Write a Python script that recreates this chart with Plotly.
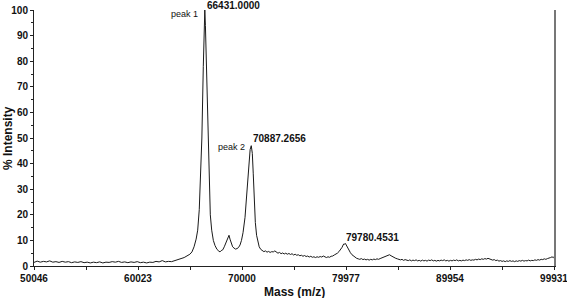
import plotly.graph_objects as go

# Spectrum (mass in Da, % intensity)
mass = [
    50046, 50350, 50650, 50950, 51250, 51550, 51850, 52150, 52450, 52750,
    53050, 53350, 53650, 53950, 54250, 54550, 54850, 55150, 55450, 55750,
    56050, 56350, 56650, 56950, 57250, 57550, 57850, 58150, 58450, 58750,
    59050, 59350, 59650, 59950, 60250, 60550, 60850, 61150, 61450, 61750,
    62050, 62350, 62650, 62950, 63250, 63550, 63850, 64150, 64450, 64750,
    65000, 65200, 65400, 65600, 65750, 65900, 66038, 66150, 66287, 66380,
    66431, 66490, 66594, 66700, 66834, 66960, 67093, 67250, 67410, 67600,
    67780, 67890, 68000, 68150, 68300, 68450, 68600, 68754, 68850, 68950,
    69100, 69234, 69380, 69522, 69660, 69810, 69950, 70098, 70200, 70290,
    70400, 70500, 70578, 70680, 70780, 70887, 70990, 71080, 71180, 71280,
    71400, 71520, 71650, 71800, 71950, 72100, 72250, 72400, 72550, 72700,
    72850, 73000, 73150, 73300, 73450, 73600, 73750, 73900, 74050, 74200,
    74350, 74500, 74650, 74800, 74950, 75100, 75250, 75400, 75550, 75700,
    75850, 76000, 76150, 76300, 76450, 76600, 76750, 76900, 77050, 77200,
    77350, 77500, 77650, 77800, 77950, 78100, 78250, 78400, 78550, 78700,
    78850, 79000, 79150, 79300, 79450, 79600, 79700, 79780, 79850, 79920,
    80000, 80100, 80250, 80400, 80550, 80700, 80850, 81000, 81150, 81300,
    81450, 81600, 81750, 81900, 82050, 82200, 82350, 82500, 82650, 82800,
    82950, 83100, 83250, 83400, 83550, 83700, 83850, 84000, 84150, 84300,
    84450, 84600, 84750, 84900, 85050, 85200, 85350, 85500, 85650, 85800,
    85950, 86100, 86250, 86400, 86550, 86700, 86850, 87000, 87150, 87300,
    87450, 87600, 87750, 87900, 88050, 88200, 88350, 88500, 88650, 88800,
    88950, 89100, 89250, 89400, 89550, 89700, 89850, 90000, 90150, 90300,
    90450, 90600, 90750, 90900, 91050, 91200, 91350, 91500, 91650, 91800,
    91950, 92100, 92250, 92400, 92550, 92700, 92850, 93000, 93150, 93300,
    93450, 93600, 93750, 93900, 94050, 94200, 94350, 94500, 94650, 94800,
    94950, 95100, 95250, 95400, 95550, 95700, 95850, 96000, 96150, 96300,
    96450, 96600, 96750, 96900, 97050, 97200, 97350, 97500, 97650, 97800,
    97950, 98100, 98250, 98400, 98550, 98700, 98850, 99000, 99150, 99300,
    99450, 99600, 99750, 99850, 99931,
]
intensity = [
    1.4, 1.9, 1.5, 1.8, 1.6, 2.0, 1.5, 1.7, 1.4, 1.8,
    1.5, 1.7, 1.3, 1.6, 1.4, 1.7, 1.3, 1.5, 1.2, 1.5,
    1.3, 1.6, 1.2, 1.5, 1.4, 1.7, 1.5, 1.8, 1.4, 1.6,
    1.3, 1.6, 1.4, 1.7, 1.3, 1.5, 1.2, 1.5, 1.4, 1.8,
    1.6, 2.1, 1.6, 1.8, 1.7, 2.2, 2.4, 2.9, 3.3, 3.9,
    4.6, 5.5, 7.5, 10.5, 14, 22, 34, 50, 78, 94,
    100, 94, 78, 55, 34, 20, 14, 10, 8, 6.5,
    5.8, 5.5, 6.0, 6.3, 7.5, 9.0, 10.5, 12, 10.5, 9.0,
    7.5, 7.0, 6.6, 6.8, 7.2, 8.2, 10, 13, 16, 19,
    25, 31, 35, 41, 45.5, 47, 44, 36, 25, 17,
    12, 9, 7.5, 6.5, 6.0, 5.6, 5.9, 5.4, 5.7, 5.3,
    5.6, 5.5, 5.9, 5.3, 5.0, 5.3, 4.8, 5.1, 4.7, 5.0,
    4.6, 4.9, 4.5, 4.8, 4.3, 4.6, 4.2, 4.4, 4.0, 4.2,
    3.8, 4.1, 3.7, 3.9, 3.5, 3.8, 3.4, 3.6, 3.3, 3.6,
    3.4, 3.7, 3.5, 3.9, 3.5, 3.3, 3.6, 3.4, 3.8, 3.9,
    4.3, 4.6, 5.0, 5.6, 6.4, 7.3, 8.2, 8.7, 8.5, 8.8,
    8.2, 7.3, 6.2, 5.2, 4.4, 3.8, 3.3, 3.0, 2.8, 2.6,
    2.9, 2.5, 2.7, 2.4, 2.6, 2.3, 2.6, 2.4, 2.7, 2.5,
    2.8, 2.6, 2.9, 3.1, 3.4, 3.6, 3.9, 4.1, 4.4, 4.0,
    3.6, 3.3, 3.0, 2.8, 2.6, 2.4, 2.6, 2.2, 2.5, 2.3,
    2.1, 2.4, 2.0, 2.3, 2.1, 2.4, 2.0, 2.2, 1.9, 2.3,
    2.0, 2.2, 1.9, 2.3, 2.1, 2.4, 2.0, 2.2, 1.9, 2.2,
    2.0, 2.3, 2.1, 2.4, 2.0, 2.2, 1.9, 2.2, 2.0, 2.3,
    2.1, 2.4, 2.0, 2.2, 2.0, 2.3, 2.1, 2.4, 2.2, 2.5,
    2.2, 2.4, 2.3, 2.6, 2.4, 2.7, 2.5, 2.8, 2.6, 2.9,
    2.7, 3.0, 2.8, 2.6, 2.3, 2.5, 2.1, 2.3, 1.9, 2.1,
    1.8, 2.0, 1.7, 2.0, 1.8, 2.1, 1.8, 2.0, 1.7, 2.0,
    1.8, 2.1, 1.9, 2.2, 1.9, 2.1, 2.0, 2.3, 2.0, 2.2,
    2.1, 2.4, 2.2, 2.5, 2.3, 2.6, 2.5, 2.8, 2.6, 2.9,
    3.0, 3.3, 3.6, 3.2, 3.7,
]

x_ticks = [50046, 60023, 70000, 79977, 89954, 99931]
x_minor = [55034.5, 65011.5, 74988.5, 84965.5, 94942.5]
y_ticks = [0, 10, 20, 30, 40, 50, 60, 70, 80, 90, 100]

peak_mass = [66431.0, 70887.2656, 79780.4531]
peak_label_y = [100, 50, 11.3]
peak_label_shift = [5, 0, 0]
peak_names = ["peak 1", "peak 2", ""]
peak_name_x = [65950, 70480, 0]
peak_name_y = [98.4, 46.5, 0]

FONT = "Liberation Sans, Arial, sans-serif"

fig = go.Figure()
fig.add_trace(go.Scatter(x=mass, y=intensity, mode="lines",
                         line=dict(color="#1a1a1a", width=1),
                         showlegend=False, hoverinfo="skip"))
# invisible trace on a right-side axis that carries the gray right border
fig.add_trace(go.Scatter(x=[mass[0]], y=[intensity[0]], yaxis="y2", mode="lines",
                         line=dict(width=0), showlegend=False, hoverinfo="skip"))

for m, ly, sh in zip(peak_mass, peak_label_y, peak_label_shift):
    fig.add_annotation(x=m, y=ly, yshift=sh, text="<b>%.4f</b>" % m, showarrow=False,
                       xanchor="left", yanchor="middle",
                       font=dict(family=FONT, size=10, color="#111"))
for name, nx, ny in zip(peak_names, peak_name_x, peak_name_y):
    if name:
        fig.add_annotation(x=nx, y=ny, text=name, showarrow=False,
                           xanchor="right", yanchor="middle",
                           font=dict(family=FONT, size=9, color="#111"))

# axis titles
fig.add_annotation(xref="paper", yref="paper", x=0.5, y=0, yshift=-26,
                   text="<b>Mass (m/z)</b>", showarrow=False,
                   xanchor="center", yanchor="middle",
                   font=dict(family=FONT, size=12, color="#111"))
fig.add_annotation(xref="paper", yref="paper", x=0, xshift=-26, y=0.5,
                   text="<b>% Intensity</b>", showarrow=False, textangle=-90,
                   xanchor="center", yanchor="middle",
                   font=dict(family=FONT, size=12, color="#111"))

fig.update_layout(
    width=567, height=298,
    margin=dict(l=34, r=13, t=10, b=32, autoexpand=False),
    paper_bgcolor="white", plot_bgcolor="white",
    font=dict(family=FONT, size=10, color="#111"),
    xaxis=dict(range=[50046, 99931], tickvals=x_ticks,
               ticktext=["<b>%d</b>" % v for v in x_ticks],
               automargin=False, ticklabeloverflow="allow",
               showgrid=False, zeroline=False, showline=True,
               linecolor="#222", linewidth=1, ticks="outside", ticklen=3,
               tickcolor="#222",
               minor=dict(tickvals=x_minor, ticks="outside", ticklen=3, tickcolor="#222")),
    yaxis=dict(range=[0, 100], tickvals=y_ticks,
               ticktext=["<b>%d</b>" % v for v in y_ticks],
               automargin=False,
               showgrid=False, zeroline=False, showline=True,
               linecolor="#222", linewidth=1, ticks="outside", ticklen=3,
               tickcolor="#222",
               minor=dict(dtick=5, ticks="outside", ticklen=2, tickcolor="#222")),
    yaxis2=dict(range=[0, 100], overlaying="y", side="right", automargin=False,
                showgrid=False, zeroline=False, showline=True,
                linecolor="#777777", linewidth=2, ticks="", showticklabels=False),
)

fig.write_html("out.html", config={"displayModeBar": False},
               post_script="document.body.style.margin='0';")
